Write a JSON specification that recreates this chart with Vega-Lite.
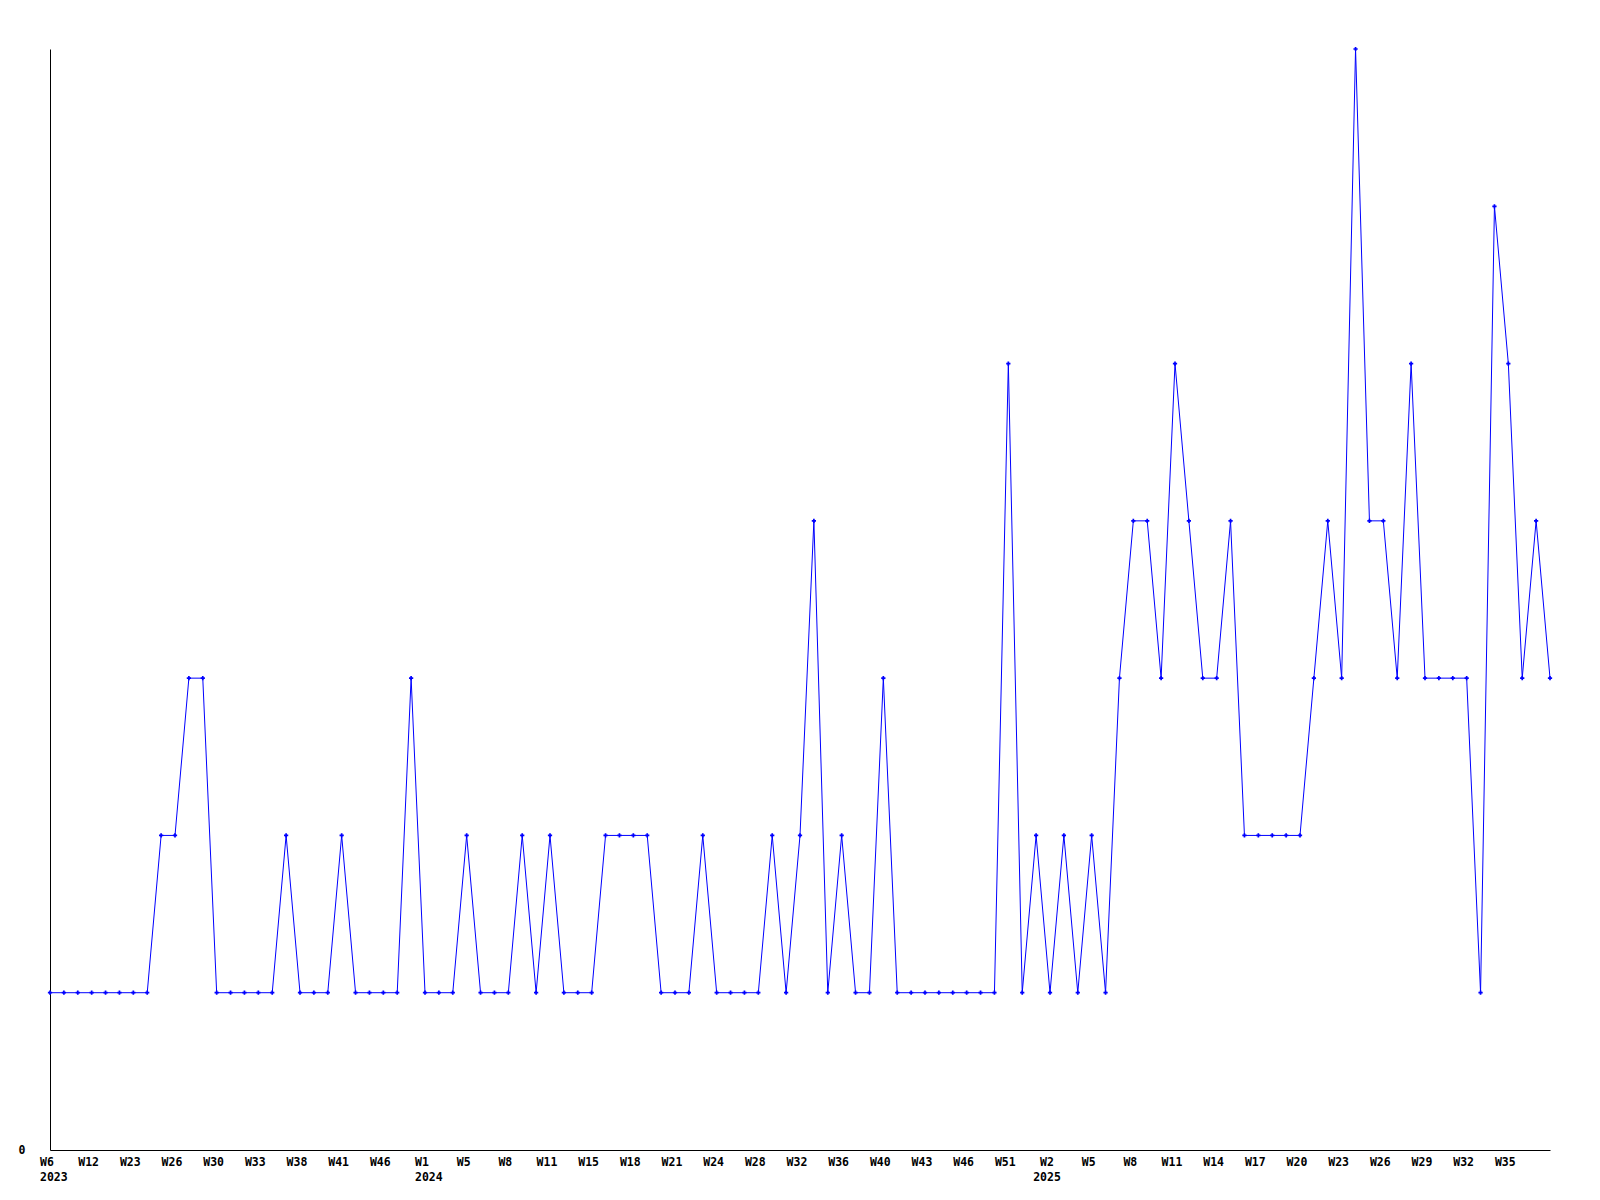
{
  "$schema": "https://vega.github.io/schema/vega-lite/v6.json",
  "width": 1500,
  "height": 1101,
  "autosize": {"type": "none"},
  "padding": {"left": 50, "top": 49, "right": 50, "bottom": 50},
  "background": "white",
  "config": {
    "view": {"stroke": null},
    "axis": {"labelFont": "DejaVu Sans Mono", "labelFontWeight": "bold", "labelFontSize": 11.5, "labelColor": "black", "domainColor": "black", "domainWidth": 1, "grid": false, "ticks": false, "tickSize": 0, "title": null, "labelOverlap": false, "labelFlush": false, "labelBound": false}
  },
  "data": {"values": [
    {"k":"2023|W6","v":1},{"k":"2023|W8","v":1},{"k":"2023|W10","v":1},{"k":"2023|W12","v":1},{"k":"2023|W16","v":1},{"k":"2023|W20","v":1},{"k":"2023|W23","v":1},{"k":"2023|W24","v":1},{"k":"2023|W25","v":2},{"k":"2023|W26","v":2},
    {"k":"2023|W27","v":3},{"k":"2023|W28","v":3},{"k":"2023|W30","v":1},{"k":"2023|W31","v":1},{"k":"2023|W32","v":1},{"k":"2023|W33","v":1},{"k":"2023|W35","v":1},{"k":"2023|W36","v":2},{"k":"2023|W38","v":1},{"k":"2023|W39","v":1},
    {"k":"2023|W40","v":1},{"k":"2023|W41","v":2},{"k":"2023|W43","v":1},{"k":"2023|W44","v":1},{"k":"2023|W46","v":1},{"k":"2023|W48","v":1},{"k":"2023|W50","v":3},{"k":"2024|W1","v":1},{"k":"2024|W2","v":1},{"k":"2024|W3","v":1},
    {"k":"2024|W5","v":2},{"k":"2024|W6","v":1},{"k":"2024|W7","v":1},{"k":"2024|W8","v":1},{"k":"2024|W9","v":2},{"k":"2024|W10","v":1},{"k":"2024|W11","v":2},{"k":"2024|W12","v":1},{"k":"2024|W13","v":1},{"k":"2024|W15","v":1},
    {"k":"2024|W16","v":2},{"k":"2024|W17","v":2},{"k":"2024|W18","v":2},{"k":"2024|W19","v":2},{"k":"2024|W20","v":1},{"k":"2024|W21","v":1},{"k":"2024|W22","v":1},{"k":"2024|W23","v":2},{"k":"2024|W24","v":1},{"k":"2024|W26","v":1},
    {"k":"2024|W27","v":1},{"k":"2024|W28","v":1},{"k":"2024|W29","v":2},{"k":"2024|W30","v":1},{"k":"2024|W32","v":2},{"k":"2024|W33","v":4},{"k":"2024|W34","v":1},{"k":"2024|W36","v":2},{"k":"2024|W37","v":1},{"k":"2024|W38","v":1},
    {"k":"2024|W40","v":3},{"k":"2024|W41","v":1},{"k":"2024|W42","v":1},{"k":"2024|W43","v":1},{"k":"2024|W44","v":1},{"k":"2024|W45","v":1},{"k":"2024|W46","v":1},{"k":"2024|W48","v":1},{"k":"2024|W49","v":1},{"k":"2024|W51","v":5},
    {"k":"2024|W52","v":1},{"k":"2025|W1","v":2},{"k":"2025|W2","v":1},{"k":"2025|W3","v":2},{"k":"2025|W4","v":1},{"k":"2025|W5","v":2},{"k":"2025|W6","v":1},{"k":"2025|W7","v":3},{"k":"2025|W8","v":4},{"k":"2025|W9","v":4},
    {"k":"2025|W10","v":3},{"k":"2025|W11","v":5},{"k":"2025|W12","v":4},{"k":"2025|W13","v":3},{"k":"2025|W14","v":3},{"k":"2025|W15","v":4},{"k":"2025|W16","v":2},{"k":"2025|W17","v":2},{"k":"2025|W18","v":2},{"k":"2025|W19","v":2},
    {"k":"2025|W20","v":2},{"k":"2025|W21","v":3},{"k":"2025|W22","v":4},{"k":"2025|W23","v":3},{"k":"2025|W24","v":7},{"k":"2025|W25","v":4},{"k":"2025|W26","v":4},{"k":"2025|W27","v":3},{"k":"2025|W28","v":5},{"k":"2025|W29","v":3},
    {"k":"2025|W30","v":3},{"k":"2025|W31","v":3},{"k":"2025|W32","v":3},{"k":"2025|W33","v":1},{"k":"2025|W34","v":6},{"k":"2025|W35","v":5},{"k":"2025|W36","v":3},{"k":"2025|W37","v":4},{"k":"2025|W38","v":3}
  ]},
  "encoding": {
    "x": {
      "field": "k", "type": "ordinal", "sort": null,
      "scale": {"type": "point", "padding": 0},
      "axis": {
        "values": ["2023|W6","2023|W12","2023|W23","2023|W26","2023|W30","2023|W33","2023|W38","2023|W41","2023|W46","2024|W1","2024|W5","2024|W8","2024|W11","2024|W15","2024|W18","2024|W21","2024|W24","2024|W28","2024|W32","2024|W36","2024|W40","2024|W43","2024|W46","2024|W51","2025|W2","2025|W5","2025|W8","2025|W11","2025|W14","2025|W17","2025|W20","2025|W23","2025|W26","2025|W29","2025|W32","2025|W35"],
        "labelExpr": "indexof(['2023|W6','2024|W1','2025|W2'], datum.value) >= 0 ? [split(datum.value,'|')[1], split(datum.value,'|')[0]] : split(datum.value,'|')[1]",
        "labelAngle": 0,
        "labelPadding": 6,
        "labelBaseline": "top",
        "labelLineHeight": 15.5,
        "labelAlign": {"condition": {"test": "indexof(['2023|W6','2024|W1'], datum.value) >= 0", "value": "left"}, "value": "center"},
        "labelOffset": {"condition": {"test": "indexof(['2023|W6','2024|W1'], datum.value) >= 0", "value": -10.5}, "value": -3.5}
      }
    },
    "y": {
      "field": "v", "type": "quantitative",
      "scale": {"domain": [0, 7], "nice": false, "zero": true},
      "axis": {"values": [0], "labelPadding": 25}
    }
  },
  "layer": [
    {"mark": {"type": "line", "color": "#0000ff", "strokeWidth": 1}},
    {"mark": {"type": "point", "shape": "cross", "filled": true, "size": 18, "color": "#0000ff", "opacity": 1}}
  ]
}
